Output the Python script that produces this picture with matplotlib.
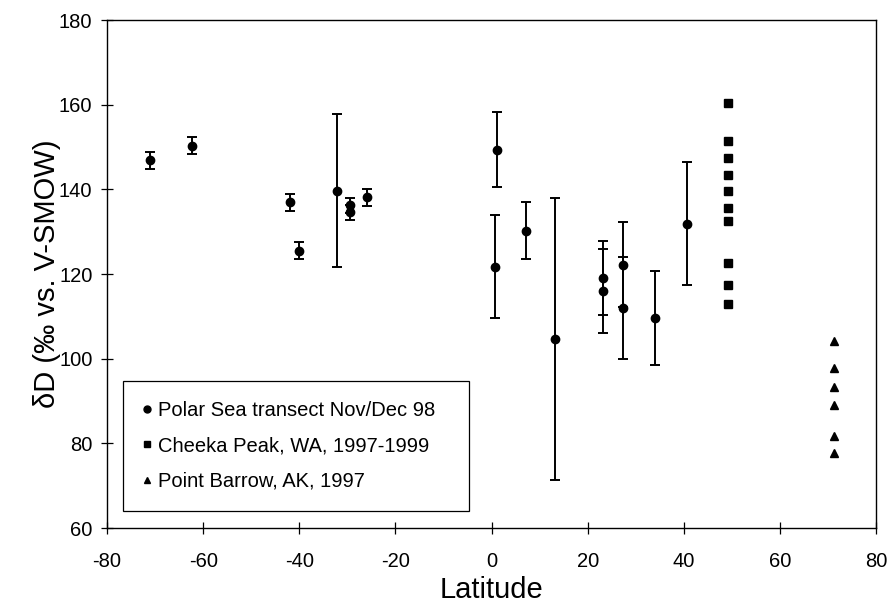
import matplotlib
matplotlib.use("Agg")
import matplotlib.pyplot as plt
from matplotlib.lines import Line2D

plt.rcParams['font.family'] = ['Liberation Sans', 'DejaVu Sans']
plt.rcParams['axes.unicode_minus'] = False

# Polar Sea transect Nov/Dec 98
polar_lat = [-71.1, -62.4, -42.0, -40.1, -32.2, -29.4, -29.4, -26.0, 1.2, 0.8,
             7.1, 13.3, 23.1, 23.1, 27.4, 27.4, 34.1, 40.7]
polar_dD = [146.9, 150.3, 137.0, 125.5, 139.7, 136.2, 134.6, 138.1, 149.4, 121.7,
            130.2, 104.7, 119.1, 116.0, 122.2, 112.0, 109.6, 131.9]
polar_err = [2.0, 2.0, 2.0, 2.0, 18.0, 1.8, 1.8, 2.0, 8.8, 12.2,
             6.7, 33.3, 8.8, 10.0, 10.0, 12.0, 11.0, 14.5]

# Cheeka Peak, WA, 1997-1999
cheeka_lat = [49.3] * 10
cheeka_dD = [160.5, 151.3, 147.3, 143.4, 139.5, 135.7, 132.6, 122.7, 117.5, 112.8]

# Point Barrow, AK, 1997
barrow_lat = [71.3] * 6
barrow_dD = [104.2, 97.9, 93.3, 89.1, 81.7, 77.6]

labels = ["Polar Sea transect Nov/Dec 98", "Cheeka Peak, WA, 1997-1999",
          "Point Barrow, AK, 1997"]
xticks = [-80, -60, -40, -20, 0, 20, 40, 60, 80]
yticks = [60, 80, 100, 120, 140, 160, 180]

fig = plt.figure(figsize=(8.88, 6.09), dpi=100)
ax = fig.add_axes([107 / 888, 1 - 528 / 609, 769 / 888, 508 / 609])

ax.errorbar(polar_lat, polar_dD, yerr=polar_err, fmt='o', color='black',
            markersize=6, elinewidth=1.4, capsize=3.5, capthick=1.4)
ax.plot(cheeka_lat, cheeka_dD, 's', color='black', markersize=6)
ax.plot(barrow_lat, barrow_dD, '^', color='black', markersize=6)

ax.set_xlim(-80, 80)
ax.set_ylim(60, 180)
ax.set_xticks(xticks)
ax.set_yticks(yticks)
ax.tick_params(axis='both', direction='inout', length=9, width=0.9,
               labelsize=14.5, colors='black')
ax.tick_params(axis='x', pad=13)
ax.tick_params(axis='y', pad=6)
for s in ax.spines.values():
    s.set_linewidth(1.0)

ax.set_xlabel("Latitude", fontsize=21, va='center')
ax.set_ylabel("δD (‰ vs. V-SMOW)", fontsize=21, va='center')
ax.xaxis.set_label_coords(0.5, -0.122)
ax.yaxis.set_label_coords(-0.078, 0.5)

handles = [Line2D([], [], marker='o', color='black', linestyle='none', markersize=5),
           Line2D([], [], marker='s', color='black', linestyle='none', markersize=5),
           Line2D([], [], marker='^', color='black', linestyle='none', markersize=5)]
leg = ax.legend(handles, labels, loc='lower left',
                bbox_to_anchor=(0.021, 0.034, 0.45, 0.254), mode='expand',
                fontsize=14.5, frameon=True, fancybox=False, framealpha=1,
                edgecolor='black', handlelength=0.4, handletextpad=0.35,
                labelspacing=0.8, borderpad=1.0, borderaxespad=0)
leg.get_frame().set_linewidth(0.9)

fig.savefig("out.png", dpi=100)
